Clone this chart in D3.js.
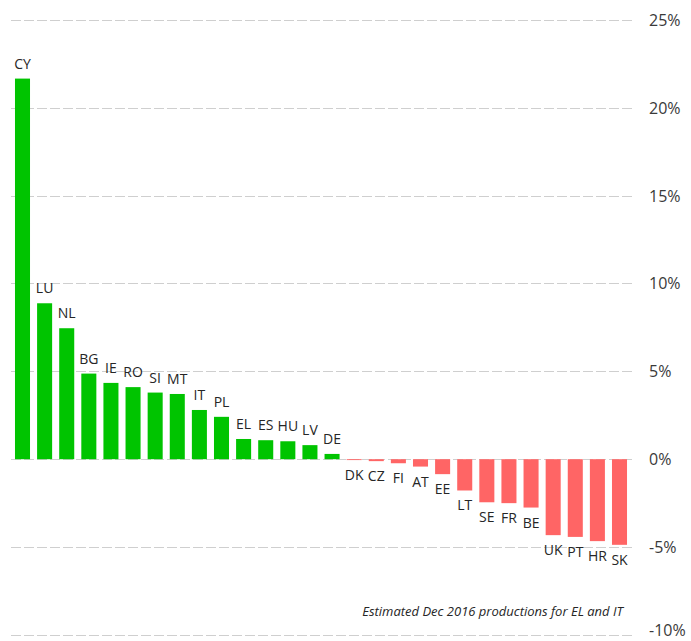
<!DOCTYPE html>
<html>
<head>
<meta charset="utf-8">
<script src="https://cdn.jsdelivr.net/npm/d3@7"></script>
<style>
  html, body { margin: 0; padding: 0; background: #fff; }
  svg { display: block; }
</style>
</head>
<body>
<svg id="chart" width="691" height="641"></svg>
<script>
const countries = ["CY","LU","NL","BG","IE","RO","SI","MT","IT","PL","EL","ES","HU","LV","DE","DK","CZ","FI","AT","EE","LT","SE","FR","BE","UK","PT","HR","SK"];
const values = [21.65, 8.87, 7.45, 4.87, 4.34, 4.10, 3.79, 3.71, 2.80, 2.41, 1.15, 1.08, 1.02, 0.80, 0.30, -0.05, -0.11, -0.23, -0.42, -0.85, -1.78, -2.45, -2.50, -2.75, -4.32, -4.42, -4.66, -4.87];
const yTicks = [25, 20, 15, 10, 5, 0, -5, -10];
const tickLabels = ["25%", "20%", "15%", "10%", "5%", "0%", "-5%", "-10%"];
const footnote = "Estimated Dec 2016 productions for EL and IT";

const data = countries.map((c, i) => ({ c, v: values[i] }));
const svg = d3.select("#chart");
const font = "'Open Sans', 'DejaVu Sans', sans-serif";

const x = d3.scaleBand().domain(countries).range([11, 631]).paddingInner(0.32).paddingOuter(0.18);
const y = d3.scaleLinear().domain([-10, 25]).range([635, 19.7]);

// gridlines
svg.append("g").selectAll("line").data(yTicks).join("line")
  .attr("x1", 11).attr("x2", 632)
  .attr("y1", d => Math.round(y(d)) + 0.5).attr("y2", d => Math.round(y(d)) + 0.5)
  .attr("stroke", "#cfcfcf").attr("stroke-width", 1)
  .attr("stroke-dasharray", "10,3");

// tick labels
svg.append("g").selectAll("text").data(yTicks).join("text")
  .attr("x", 649).attr("y", d => Math.min(y(d) + 6, 636))
  .attr("font-family", font).attr("font-size", 16).attr("fill", "#3a3a3a")
  .text((d, i) => tickLabels[i]);

// bars
svg.append("g").selectAll("rect").data(data).join("rect")
  .attr("x", d => x(d.c))
  .attr("width", x.bandwidth())
  .attr("y", d => d.v >= 0 ? y(d.v) : y(0))
  .attr("height", d => Math.abs(y(d.v) - y(0)))
  .attr("fill", d => d.v >= 0 ? "#00c400" : "#ff6565");

// bar labels
svg.append("g").selectAll("text").data(data).join("text")
  .attr("x", d => x(d.c) + x.bandwidth() / 2)
  .attr("y", d => d.v >= 0 ? y(d.v) - 10 : y(d.v) + 20)
  .attr("text-anchor", "middle")
  .attr("font-family", font).attr("font-size", 14).attr("fill", "#262626")
  .text(d => d.c);

// footnote
svg.append("text")
  .attr("x", 623).attr("y", 616)
  .attr("text-anchor", "end")
  .attr("font-family", font).attr("font-size", 13).attr("font-style", "italic")
  .attr("fill", "#262626")
  .text(footnote);
</script>
</body>
</html>
